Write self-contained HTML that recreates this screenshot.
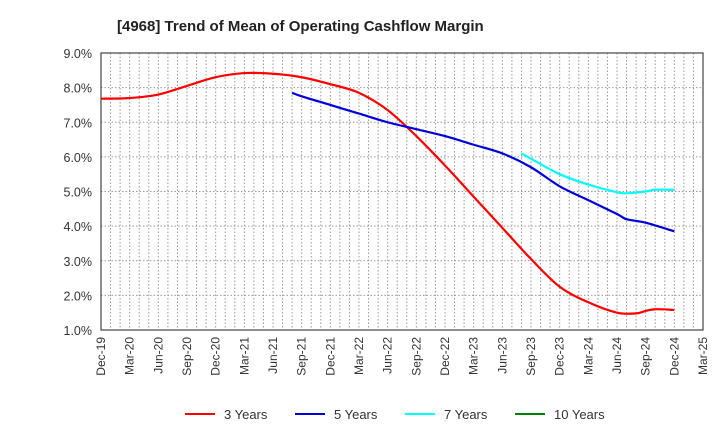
<!DOCTYPE html>
<html><head><meta charset="utf-8"><style>
body{margin:0;background:#fff;font-family:"Liberation Sans",Arial,sans-serif}
</style></head><body>
<svg id="c" width="720" height="440" xmlns="http://www.w3.org/2000/svg">
<text x="117" y="31" font-size="15" font-weight="bold" fill="#222">[4968]  Trend of Mean of Operating Cashflow Margin</text>
<g id="grid"></g><g id="axes"></g><g id="series"></g><g id="legend"></g>
</svg>
<script>
const yTicks=[1,2,3,4,5,6,7,8,9];
const xTickLabels=["Dec-19","Mar-20","Jun-20","Sep-20","Dec-20","Mar-21","Jun-21","Sep-21","Dec-21","Mar-22","Jun-22","Sep-22","Dec-22","Mar-23","Jun-23","Sep-23","Dec-23","Mar-24","Jun-24","Sep-24","Dec-24","Mar-25"];
const red3Months=[0,3,6,9,12,15,18,21,24,27,30,33,36,39,42,45,48,51,54,56,57,58,60];
const red3Values=[7.68,7.70,7.8,8.05,8.3,8.42,8.4,8.3,8.1,7.85,7.35,6.6,5.75,4.85,3.95,3.05,2.25,1.8,1.5,1.48,1.55,1.6,1.58];
const blue5Months=[20,21,24,27,30,33,36,39,42,45,48,51,54,55,57,60];
const blue5Values=[7.85,7.75,7.5,7.25,7.0,6.8,6.6,6.35,6.1,5.7,5.15,4.75,4.35,4.2,4.1,3.85];
const cyan7Months=[44,45,48,51,54,55,57,58,60];
const cyan7Values=[6.1,5.95,5.5,5.2,4.98,4.95,5.0,5.05,5.05];
const green10Months=[];
const green10Values=[];
const L=101,R=703,T=53,B=330,NM=63;
const x=m=>L+m*(R-L)/NM;
const y=v=>B-(v-1)*(B-T)/8;
const NS="http://www.w3.org/2000/svg";
function mk(t,a,p){const e=document.createElementNS(NS,t);for(const k in a)e.setAttribute(k,a[k]);p.appendChild(e);return e;}
const g=document.getElementById('grid'),ax=document.getElementById('axes'),s=document.getElementById('series'),lg=document.getElementById('legend');
for(let m=1;m<NM;m++){const l=mk('line',{x1:x(m),x2:x(m),y1:T,y2:B,stroke:'#999','stroke-dasharray':'1.5,2','stroke-width':1},g);

}
yTicks.forEach(v=>{const l=mk('line',{x1:L,x2:R,y1:y(v),y2:y(v),stroke:'#999','stroke-dasharray':'1.5,2','stroke-width':1},g);


const t=mk('text',{x:92,y:y(v)+5,'text-anchor':'end','font-size':12.5,fill:'#333'},ax);t.textContent=v.toFixed(1)+'%';

});
xTickLabels.forEach((lb,i)=>{const xx=x(i*3);const t=mk('text',{x:0,y:0,transform:`translate(${xx+4},337) rotate(-90)`,'text-anchor':'end','font-size':12,fill:'#333'},ax);t.textContent=lb;

});
const fr=mk('rect',{x:L,y:T,width:R-L,height:B-T,fill:'none',stroke:'#444','stroke-width':1.2},ax);


function path(ms,vs){if(!ms.length)return'';const p=ms.map((m,i)=>[x(m),y(vs[i])]);let d=`M${p[0][0]},${p[0][1]}`;
for(let i=0;i<p.length-1;i++){const p0=p[Math.max(0,i-1)],p1=p[i],p2=p[i+1],p3=p[Math.min(p.length-1,i+2)];
d+=` C${p1[0]+(p2[0]-p0[0])/6},${p1[1]+(p2[1]-p0[1])/6} ${p2[0]-(p3[0]-p1[0])/6},${p2[1]-(p3[1]-p1[1])/6} ${p2[0]},${p2[1]}`;}return d;}
const series=[["3 Years",red3Months,red3Values,"#ff0000","line-3-years"],["5 Years",blue5Months,blue5Values,"#0000dd","line-5-years"],["7 Years",cyan7Months,cyan7Values,"#00ffff","line-7-years"],["10 Years",green10Months,green10Values,"#008000","line-10-years"]];
series.forEach((sr,i)=>{if(sr[1].length){const p=mk('path',{d:path(sr[1],sr[2]),fill:'none',stroke:sr[3],'stroke-width':2.2},s);

}
const lx=185+i*110;
const ll=mk('line',{x1:lx,x2:lx+30,y1:414,y2:414,stroke:sr[3],'stroke-width':2},lg);


const t=mk('text',{x:lx+39,y:419,'font-size':13,fill:'#333'},lg);t.textContent=sr[0];

});
</script>
</body></html>
